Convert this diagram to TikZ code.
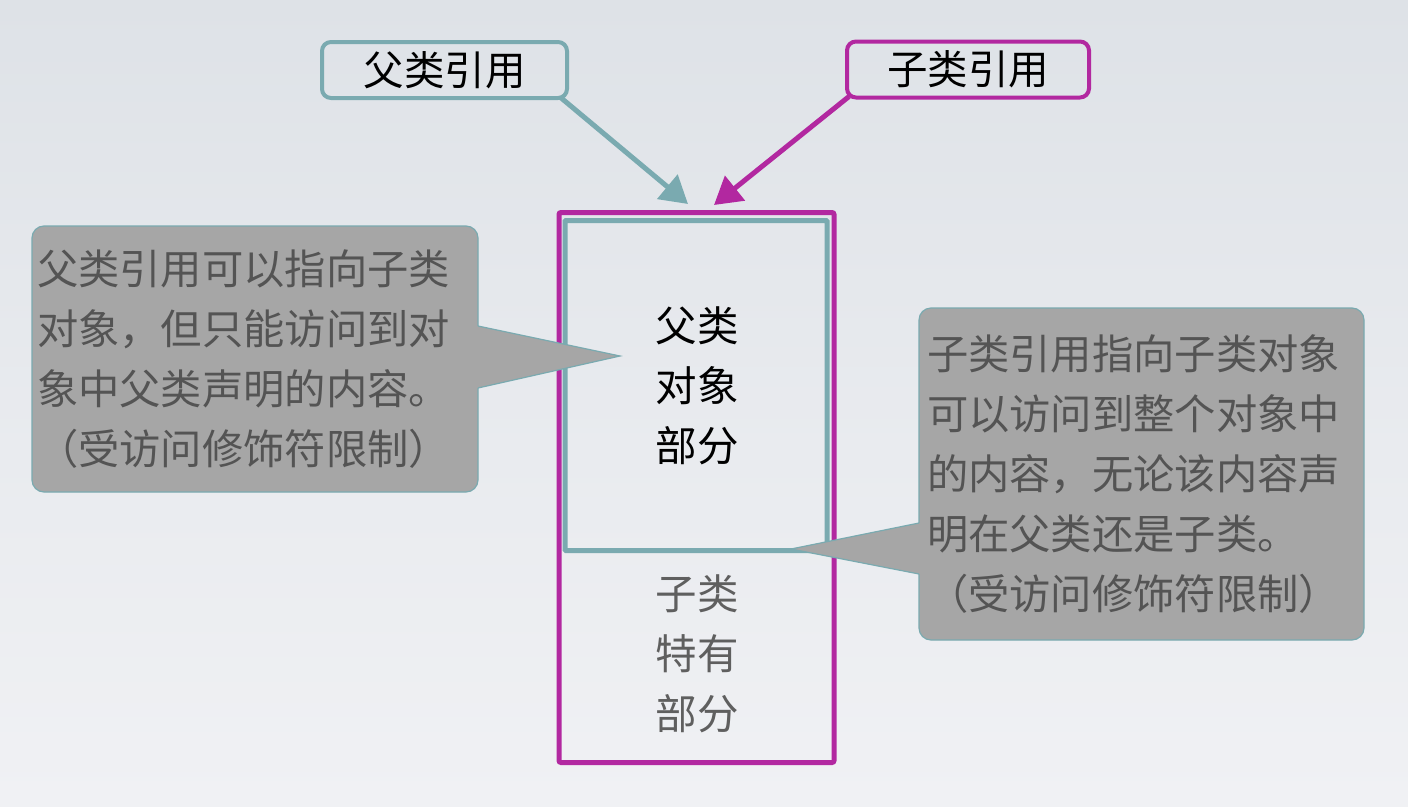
\documentclass[tikz,border=0pt]{standalone}
\usepackage{fontspec}
\setmainfont{Noto Sans CJK SC}
\usetikzlibrary{arrows.meta}
\definecolor{tealc}{RGB}{122,170,176}
\definecolor{magc}{RGB}{178,40,160}
\definecolor{cfill}{RGB}{166,166,166}
\definecolor{ctext}{RGB}{84,84,84}
\definecolor{subtext}{RGB}{95,95,95}
\definecolor{bgtop}{RGB}{222,226,231}
\definecolor{bgbot}{RGB}{240,241,244}
\begin{document}
\begin{tikzpicture}[x=1pt,y=-1pt,
  refbox/.style={draw, line width=4pt, rounded corners=9pt, minimum width=245pt,
    minimum height=56pt, inner sep=0pt, outer sep=0pt,
    font=\fontsize{40.5}{40.5}\selectfont, text=black},
  arr/.style={line width=5pt, -{Triangle[length=27pt,width=31pt]}},
  cbox/.style={fill=cfill, draw=tealc, line width=1.2pt, rounded corners=12pt,
    anchor=north west, align=left, outer sep=0pt, text=ctext,
    font=\fontsize{41.3}{60}\selectfont},
  cfillst/.style={fill=cfill},
  cline/.style={draw=tealc, line width=1.2pt, line join=miter},
  body/.style={align=center, font=\fontsize{41.5}{60}\selectfont}]
\useasboundingbox (0,0) rectangle (1408,806);
\shade[top color=bgtop, bottom color=bgbot, middle color=bgtop!45!bgbot] (0,0) rectangle (1408,806);

% reference boxes
\node[refbox, draw=tealc] (pref) at (444.5,70) {父类引用};
\node[refbox, draw=magc, minimum width=242pt] (cref) at (968,69.5) {子类引用};

% object rectangles
\node[draw=magc, line width=5pt, minimum width=275pt, minimum height=550pt,
  rounded corners=2pt, inner sep=0pt, outer sep=0pt] (obj) at (696.5,487.5) {};
\node[draw=tealc, line width=5pt, minimum width=262pt, minimum height=330pt,
  rounded corners=1pt, inner sep=0pt, outer sep=0pt] (par) at (696,385.5) {};
\node[body, text=black] (ptxt) at (697,386) {父类\\对象\\部分};
\node[body, text=subtext] (stxt) at (697,654) {子类\\特有\\部分};

% arrows
\coordinate (ptip) at (688,204);
\coordinate (ctip) at (714,205);
\draw[arr, tealc] ([xshift=-7pt,yshift=1pt]pref.south east) -- (ptip);
\draw[arr, magc] ([xshift=2pt,yshift=1pt]cref.south west) -- (ctip);

% left callout
\node[cbox, text width=436pt, inner xsep=5pt, inner ysep=0pt,
  minimum height=266pt] (lcall) at (32,226)
  {父类引用可以指向子类\\对象，但只能访问到对\\象中父类声明的内容。\\（受访问修饰符限制）};
\coordinate (ltip) at (620,356);
\fill[cfillst] ([xshift=-5pt,yshift=33pt]lcall.east) -- ([yshift=33pt]lcall.east)
  -- (ltip) -- ([yshift=-29pt]lcall.east) -- ([xshift=-5pt,yshift=-29pt]lcall.east) -- cycle;
\draw[cline] ([yshift=33pt]lcall.east) -- (ltip) -- ([yshift=-29pt]lcall.east);

% right callout
\node[cbox, text width=429pt, inner xsep=8pt, inner ysep=0pt,
  minimum height=332pt] (rcall) at (919,308)
  {子类引用指向子类对象\\可以访问到整个对象中\\的内容，无论该内容声\\明在父类还是子类。\\（受访问修饰符限制）};
\coordinate (rtip) at (791,549);
\fill[cfillst] ([xshift=5pt,yshift=-49pt]rcall.west) -- ([yshift=-49pt]rcall.west)
  -- (rtip) -- ([yshift=-100pt]rcall.west) -- ([xshift=5pt,yshift=-100pt]rcall.west) -- cycle;
\draw[cline] ([yshift=-49pt]rcall.west) -- (rtip) -- ([yshift=-100pt]rcall.west);
\end{tikzpicture}
\end{document}
